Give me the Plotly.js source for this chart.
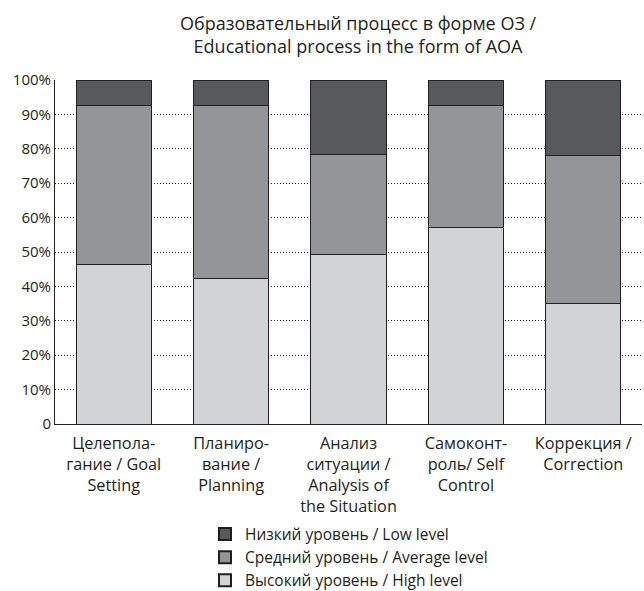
<!DOCTYPE html>
<html>
<head>
<meta charset="utf-8">
<script src="https://cdn.plot.ly/plotly-3.0.1.min.js"></script>
<style>html,body{margin:0;padding:0;background:#fff;}#chart{width:644px;height:591px;}</style>
</head>
<body>
<div id="chart"></div>
<script>
const categories = [
  "Целепола-<br>гание / Goal<br>Setting",
  "Планиро-<br>вание /<br>Planning",
  "Анализ<br>ситуации /<br>Analysis of<br>the Situation",
  "Самоконт-<br>роль/ Self<br>Control",
  "Коррекция /<br>Correction"
];
const highLevel = [46.3, 42.4, 49.2, 57.1, 35.1];
const averageLevel = [46.2, 50.1, 29.0, 35.4, 43.0];
const lowLevel = [7.5, 7.5, 21.8, 7.5, 21.9];
const seriesNames = [
  "Высокий уровень / High level",
  "Средний уровень / Average level",
  "Низкий уровень / Low level"
];
const yTickVals = [0, 10, 20, 30, 40, 50, 60, 70, 80, 90, 100];
const yTickText = ["0", "10%", "20%", "30%", "40%", "50%", "60%", "70%", "80%", "90%", "100%"];

const FONT = "Open Sans, sans-serif";
const TXT = "#231f20";
const colors = ["#d1d3d4", "#939598", "#58595b"];
const seriesData = [highLevel, averageLevel, lowLevel];

const traces = seriesData.map((vals, i) => ({
  type: "bar",
  x: categories,
  y: vals,
  name: seriesNames[i],
  marker: {color: colors[i], line: {color: TXT, width: 1}},
  hoverinfo: "none"
}));

const layout = {
  width: 644, height: 591,
  paper_bgcolor: "#fff", plot_bgcolor: "#fff",
  barmode: "stack",
  bargap: 0.36,
  margin: {l: 55, r: 2, t: 80, b: 167},
  font: {family: FONT, color: TXT, size: 14},
  title: {
    text: "Образовательный процесс в форме ОЗ /<br>Educational process in the form of AOA",
    font: {family: FONT, size: 18, color: TXT},
    x: 0.556, xanchor: "center", y: 0.950, yanchor: "top"
  },
  xaxis: {
    showgrid: false, zeroline: false,
    showline: true, linecolor: TXT, linewidth: 1,
    ticks: "", ticklabelstandoff: 4,
    tickfont: {family: FONT, size: 16.3, color: TXT}
  },
  yaxis: {
    range: [0, 100], tickvals: yTickVals, ticktext: yTickText,
    showgrid: true, gridcolor: TXT, griddash: "1px,2px", gridwidth: 1,
    showline: true, linecolor: TXT, linewidth: 1,
    zeroline: false, ticks: "",
    tickfont: {family: FONT, size: 15, color: TXT}
  },
  legend: {
    orientation: "v", traceorder: "reversed",
    xref: "paper", yref: "container",
    x: 0.2555, xanchor: "left", y: 0.1245, yanchor: "top",
    font: {family: FONT, size: 15.5, color: TXT},
    itemsizing: "constant"
  },
  showlegend: true
};

Plotly.newPlot("chart", traces, layout, {displayModeBar: false, staticPlot: true});
</script>
</body>
</html>
